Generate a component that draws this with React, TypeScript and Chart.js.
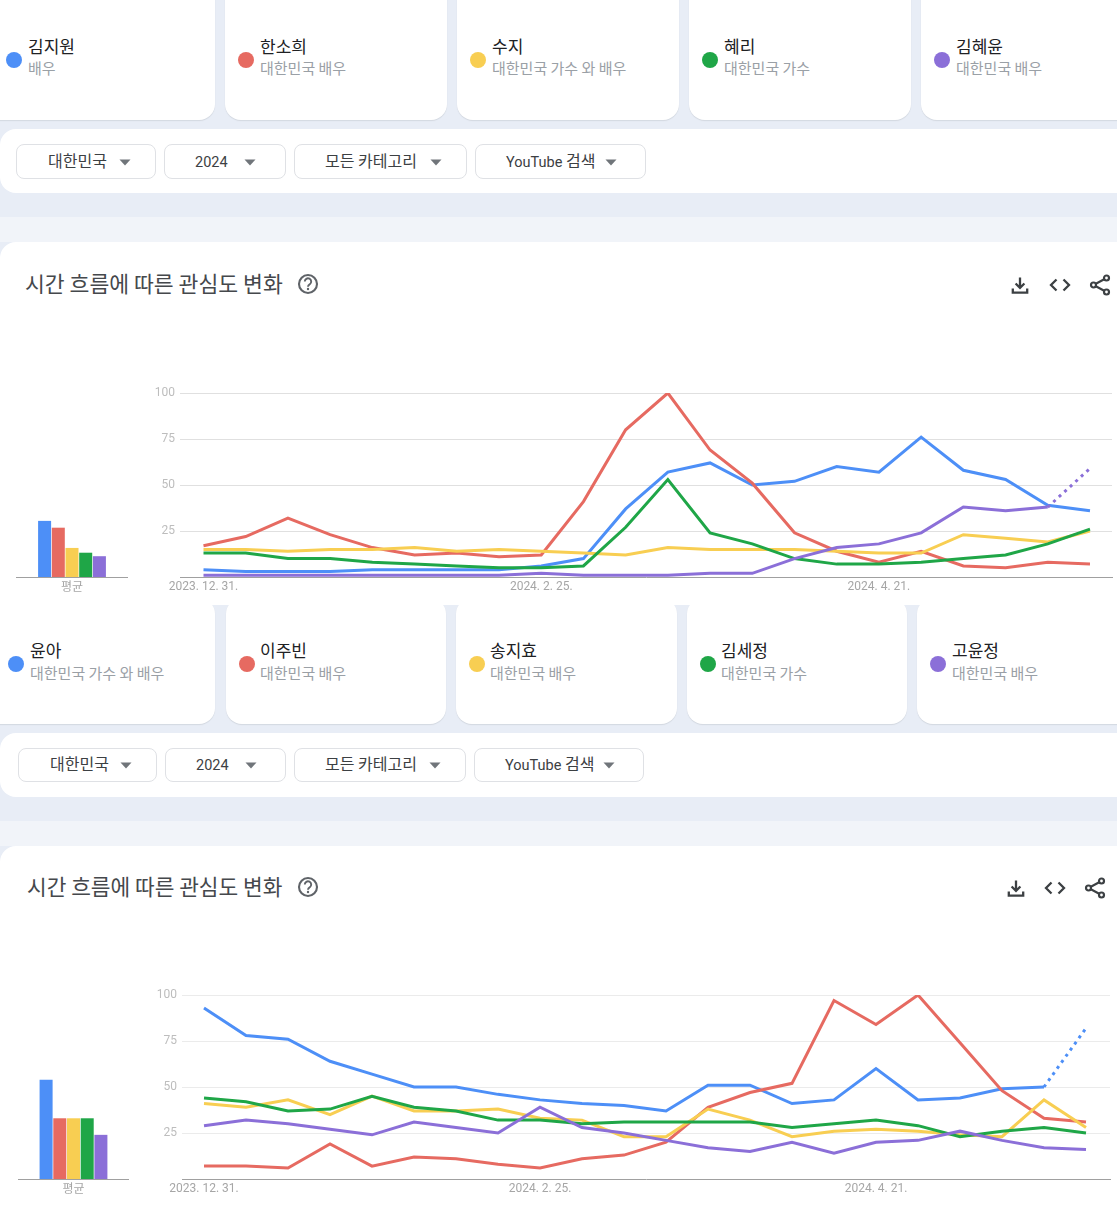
import React, { useEffect, useRef } from "react";
import { Chart, registerables } from "chart.js";

Chart.register(...registerables);

const weeks = [
  "2023. 12. 31.", "2024. 1. 7.", "2024. 1. 14.", "2024. 1. 21.", "2024. 1. 28.", "2024. 2. 4.",
  "2024. 2. 11.", "2024. 2. 18.", "2024. 2. 25.", "2024. 3. 3.", "2024. 3. 10.", "2024. 3. 17.",
  "2024. 3. 24.", "2024. 3. 31.", "2024. 4. 7.", "2024. 4. 14.", "2024. 4. 21.", "2024. 4. 28.",
  "2024. 5. 5.", "2024. 5. 12.", "2024. 5. 19.", "2024. 5. 26.",
];
const yTicks = [25, 50, 75, 100];
const xTickIndexes = [0, 8, 16];
const avgLabel = "평균";
const colors = ["#4d8ff7", "#e66a61", "#f8ce52", "#1fa647", "#8b6fd8"];

// first comparison
const namesA = ["김지원", "한소희", "수지", "혜리", "김혜윤"];
const rolesA = ["배우", "대한민국 배우", "대한민국 가수 와 배우", "대한민국 가수", "대한민국 배우"];
const blueA = [4, 3, 3, 3, 4, 4, 4, 4, 6, 10, 37, 57, 62, 50, 52, 60, 57, 76, 58, 53, 39, 36];
const redA = [17, 22, 32, 23, 16, 12, 13, 11, 12, 41, 80, 100, 69, 51, 24, 14, 8, 14, 6, 5, 8, 7];
const yellowA = [15, 15, 14, 15, 15, 16, 14, 15, 14, 13, 12, 16, 15, 15, 15, 14, 13, 13, 23, 21, 19, 25];
const greenA = [13, 13, 10, 10, 8, 7, 6, 5, 5, 6, 27, 53, 24, 18, 10, 7, 7, 8, 10, 12, 18, 26];
const purpleA = [1, 1, 1, 1, 1, 1, 1, 1, 2, 1, 1, 1, 2, 2, 10, 16, 18, 24, 38, 36, 38, 59];
const averagesA = [30.5, 26.8, 15.8, 13.2, 11.3];

// second comparison
const namesB = ["윤아", "이주빈", "송지효", "김세정", "고윤정"];
const rolesB = ["대한민국 가수 와 배우", "대한민국 배우", "대한민국 배우", "대한민국 가수", "대한민국 배우"];
const blueB = [93, 78, 76, 64, 57, 50, 50, 46, 43, 41, 40, 37, 51, 51, 41, 43, 60, 43, 44, 49, 50, 82];
const redB = [7, 7, 6, 19, 7, 12, 11, 8, 6, 11, 13, 20, 39, 47, 52, 97, 84, 100, 74, 48, 33, 31];
const yellowB = [41, 39, 43, 35, 45, 37, 37, 38, 33, 32, 23, 23, 38, 32, 23, 26, 27, 26, 24, 23, 43, 28];
const greenB = [44, 42, 37, 38, 45, 39, 37, 32, 32, 30, 31, 31, 31, 31, 28, 30, 32, 29, 23, 26, 28, 25];
const purpleB = [29, 32, 30, 27, 24, 31, 28, 25, 39, 28, 25, 21, 17, 15, 20, 14, 20, 21, 26, 21, 17, 16];
const averagesB = [54, 33, 33, 33, 24];

const filters = ["대한민국", "2024", "모든 카테고리", "YouTube 검색"];
const title = "시간 흐름에 따른 관심도 변화";

const FONT = "Roboto, 'Noto Sans CJK KR', sans-serif";
const KFONT = "'Noto Sans CJK KR', Roboto, sans-serif";
const BG = "#e8edf6";
const BG2 = "#f1f4f9";

function LineChart(props: {
  top: number; x0: number; x21: number; left: number; right: number; grid: string;
  series: number[][]; dottedSeries: number;
}) {
  const { top, x0, x21, left, right, grid, series, dottedSeries } = props;
  const ref = useRef<HTMLCanvasElement>(null);
  const canvasLeft = 140;
  const canvasTop = top - 18;
  const canvasW = 1117 - canvasLeft;
  const canvasH = 18 + 184 + 20;
  useEffect(() => {
    const step = (x21 - x0) / 21;
    const chart = new Chart(ref.current!, {
      type: "line",
      data: {
        labels: weeks,
        datasets: series.map((vals, s) => ({
          data: vals.map((y, i) => ({ x: i, y })),
          borderColor: colors[s],
          borderWidth: 3,
          pointRadius: 0,
          tension: 0,
          order: 5 - s,
          borderCapStyle: "butt" as const,
          segment: {
            borderDash: (ctx: any) => (s === dottedSeries && ctx.p0DataIndex === 20 ? [3, 4.5] : undefined),
          },
        })),
      },
      options: {
        responsive: false,
        animation: false,
        layout: { padding: { top: 18, right: 1117 - right, left: 0, bottom: 0 } },
        plugins: { legend: { display: false }, tooltip: { enabled: false } },
        scales: {
          x: {
            type: "linear",
            min: -(x0 - left) / step,
            max: 21 + (right - x21) / step,
            grid: { display: false, drawTicks: false },
            border: { display: true, color: "#a0a0a0", width: 1 },
            afterBuildTicks: (s: any) => { s.ticks = xTickIndexes.map((value) => ({ value })); },
            afterFit: (s: any) => { s.height = 20; },
            ticks: {
              autoSkip: false, maxRotation: 0, padding: 3,
              color: "#a6a6a6",
              font: { family: "Roboto", size: 12 },
              callback: (v: any) => weeks[v as number],
            },
          },
          y: {
            min: 0, max: 100,
            border: { display: false },
            grid: { color: grid, lineWidth: 1, drawTicks: false },
            afterBuildTicks: (s: any) => { s.ticks = yTicks.map((value) => ({ value })); },
            afterFit: (s: any) => { s.width = left - canvasLeft; },
            ticks: { color: "#bdbdbd", padding: 5, font: { family: "Roboto", size: 12 } },
          },
        },
      },
    } as any);
    return () => chart.destroy();
  }, []);
  return (
    <canvas ref={ref} width={canvasW} height={canvasH}
      style={{ position: "absolute", left: canvasLeft, top: canvasTop, width: canvasW, height: canvasH }} />
  );
}

function AvgChart(props: { base: number; left: number; width: number; values: number[] }) {
  const { base, left, width, values } = props;
  const ref = useRef<HTMLCanvasElement>(null);
  useEffect(() => {
    const chart = new Chart(ref.current!, {
      type: "bar",
      data: {
        labels: [avgLabel],
        datasets: values.map((v, s) => ({
          data: [v],
          backgroundColor: colors[s],
          barPercentage: 0.95,
          categoryPercentage: 68.5 / width,
        })),
      },
      options: {
        responsive: false,
        animation: false,
        plugins: { legend: { display: false }, tooltip: { enabled: false } },
        scales: {
          x: {
            grid: { display: false, drawTicks: false },
            border: { display: true, color: "#a0a0a0", width: 1 },
            afterFit: (s: any) => { s.height = 20; },
            ticks: { padding: 2, color: "#a6a6a6", font: { family: KFONT, size: 12 } },
          },
          y: { display: false, min: 0, max: 100 },
        },
      },
    } as any);
    return () => chart.destroy();
  }, []);
  return (
    <canvas ref={ref} width={width} height={204}
      style={{ position: "absolute", left, top: base - 184, width, height: 204 }} />
  );
}

function box(left: number, top: number, right: number, bottom: number, extra: React.CSSProperties = {}): React.CSSProperties {
  return { position: "absolute", left, top, width: right - left, height: bottom - top, boxSizing: "border-box", ...extra };
}

function Text(props: { x: number; y: number; size: number; color: string; children: React.ReactNode; fam?: string }) {
  return (
    <div style={{
      position: "absolute", left: props.x, top: props.y, transform: "translateY(-50%)", whiteSpace: "nowrap",
      fontFamily: props.fam || FONT, fontSize: props.size, color: props.color, fontWeight: 400, lineHeight: 1,
    }}>{props.children}</div>
  );
}

// Filter labels: Hangul runs are larger than the Latin and digit runs, as in the reference.
function FilterLabel({ text }: { text: string }) {
  const parts = text.split(/([\uAC00-\uD7A3][\uAC00-\uD7A3 ]*)/).filter(Boolean);
  return (
    <>
      {parts.map((part, i) => (
        /[\uAC00-\uD7A3]/.test(part)
          ? <span key={i} style={{ fontFamily: KFONT, fontSize: 16 }}>{part}</span>
          : <span key={i} style={{ fontFamily: "Roboto", fontSize: 14.5 }}>{part}</span>
      ))}
    </>
  );
}

function Icons(props: { y: number; xs: number[] }) {
  const { y, xs } = props;
  const c = "#3c4043";
  return (
    <>
      <svg style={{ position: "absolute", left: xs[0] - 12, top: y - 12 }} width={24} height={24} viewBox="0 0 24 24">
        <path d="M12 4.5v10M7.6 10.5l4.4 4.4 4.4-4.4M4.8 15.5v4.2h14.4v-4.2" fill="none" stroke={c} strokeWidth={2.3} />
      </svg>
      <svg style={{ position: "absolute", left: xs[1] - 12, top: y - 12 }} width={24} height={24} viewBox="0 0 24 24">
        <path d="M8.5 6.5l-5.5 5.5 5.5 5.5M15.5 6.5l5.5 5.5-5.5 5.5" fill="none" stroke={c} strokeWidth={2.3} />
      </svg>
      <svg style={{ position: "absolute", left: xs[2] - 12, top: y - 12 }} width={24} height={24} viewBox="0 0 24 24">
        <path d="M18.5 5L5.5 12l13 7" fill="none" stroke={c} strokeWidth={2.2} />
        <circle cx={18.5} cy={5} r={2.5} fill="#fff" stroke={c} strokeWidth={2.2} />
        <circle cx={5.5} cy={12} r={2.5} fill="#fff" stroke={c} strokeWidth={2.2} />
        <circle cx={18.5} cy={19} r={2.5} fill="#fff" stroke={c} strokeWidth={2.2} />
      </svg>
    </>
  );
}

function Section(props: {
  cardsTop: number; cardsBottom: number; cardX: number[][]; dotX: number[]; textX: number[]; dotY: number; nameY: number; roleY: number;
  names: string[]; roles: string[];
  stripTop: number; stripBottom: number; btnTop: number; btnBottom: number; btnX: number[][]; btnTextX: number[]; btnArrowX: number[];
  bandTop: number; panelTop: number; panelBottom: number; titleX: number; titleY: number; titleSize: number; helpX: number; iconXs: number[];
}) {
  const p = props;
  return (
    <>
      {p.cardX.map((c, i) => (
        <div key={i} style={box(c[0], p.cardsTop, c[1], p.cardsBottom, { background: "#fff", borderRadius: 16, boxShadow: "0 1px 1px rgba(60,64,67,0.12)" })} />
      ))}
      {p.names.map((n, i) => (
        <React.Fragment key={n}>
          <div style={box(p.dotX[i] - 8, p.dotY - 8, p.dotX[i] + 8, p.dotY + 8, { background: colors[i], borderRadius: "50%" })} />
          <Text x={p.textX[i]} y={p.nameY} size={17} color="#202124" fam={KFONT}>{n}</Text>
          <Text x={p.textX[i]} y={p.roleY} size={15} color="#9aa0a6" fam={KFONT}>{p.roles[i]}</Text>
        </React.Fragment>
      ))}
      <div style={box(0, p.stripTop, 1117, p.stripBottom, { background: "#fff", borderRadius: "16px 0 0 16px" })} />
      {filters.map((f, i) => (
        <React.Fragment key={f}>
          <div style={box(p.btnX[i][0], p.btnTop, p.btnX[i][1], p.btnBottom, { background: "#fff", border: "1px solid #dfe1e5", borderRadius: 8 })} />
          <Text x={p.btnTextX[i]} y={(p.btnTop + p.btnBottom) / 2 + (f === "2024" ? 1 : -1)} size={15} color="#3c4043" fam={FONT}>
            <FilterLabel text={f} />
          </Text>
          <svg style={{ position: "absolute", left: p.btnArrowX[i] - 6, top: (p.btnTop + p.btnBottom) / 2 - 3 }} width={12} height={7}>
            <path d="M0.5 0.5h11l-5.5 6z" fill="#70757a" />
          </svg>
        </React.Fragment>
      ))}
      <div style={box(0, p.bandTop, 1117, p.panelTop, { background: BG2 })} />
      <div style={box(0, p.panelTop, 1117, p.panelBottom, { background: "#fff", borderRadius: "16px 0 0 0" })} />
      <Text x={p.titleX} y={p.titleY - 1} size={p.titleSize} color="#45484c" fam={KFONT}>{title}</Text>
      <svg style={{ position: "absolute", left: p.helpX - 11, top: p.titleY - 11 }} width={22} height={22} viewBox="0 0 22 22">
        <circle cx={11} cy={11} r={9} fill="none" stroke="#5f6368" strokeWidth={2.1} />
        <path d="M7.8 8.6a3.2 3.2 0 1 1 5 2.6c-1 .7-1.8 1.2-1.8 2.6" fill="none" stroke="#5f6368" strokeWidth={1.9} />
        <circle cx={11} cy={16} r={1.2} fill="#5f6368" />
      </svg>
      <Icons y={p.titleY + 1} xs={p.iconXs} />
    </>
  );
}

export default function App() {
  useEffect(() => {
    document.body.style.margin = "0";
    document.body.style.background = BG;
  }, []);
  return (
    <div style={{ position: "relative", width: 1117, height: 1208, overflow: "hidden", background: BG, fontFamily: FONT }}>
      <Section
        cardsTop={-20} cardsBottom={120}
        cardX={[[-40, 215], [225, 447], [457, 679], [689, 911], [921, 1160]]}
        dotX={[14, 246, 478, 710, 942]} textX={[28, 260, 492, 724, 956]}
        dotY={60} nameY={45} roleY={67} names={namesA} roles={rolesA}
        stripTop={129} stripBottom={193} btnTop={144} btnBottom={179}
        btnX={[[16, 156], [164, 286], [294, 467], [475, 646]]}
        btnTextX={[48, 195, 325, 506]} btnArrowX={[125, 250, 436, 611]}
        bandTop={217} panelTop={242} panelBottom={640}
        titleX={25} titleY={284} titleSize={21.6} helpX={308} iconXs={[1020, 1060, 1100]}
      />

      <div style={box(0, 605, 1117, 733, { background: BG })} />
      <Section
        cardsTop={598} cardsBottom={724}
        cardX={[[-40, 215], [226, 446], [456, 677], [687, 907], [917, 1160]]}
        dotX={[16, 247, 477, 708, 938]} textX={[30, 260, 490, 721, 952]}
        dotY={664} nameY={649} roleY={672} names={namesB} roles={rolesB}
        stripTop={733} stripBottom={797} btnTop={748} btnBottom={782}
        btnX={[[18, 157], [165, 286], [294, 466], [474, 644]]}
        btnTextX={[50, 196, 325, 505]} btnArrowX={[126, 251, 435, 609]}
        bandTop={821} panelTop={846} panelBottom={1208}
        titleX={27} titleY={887} titleSize={21.4} helpX={308} iconXs={[1016, 1055, 1095]}
      />
      <div style={box(0, 590, 1117, 605, { background: "#fff" })} />

      <LineChart top={393} x0={203.5} x21={1090} left={180} right={1112} grid="#e0e0e0"
        series={[blueA, redA, yellowA, greenA, purpleA]} dottedSeries={4} />
      <AvgChart base={577} left={16} width={112} values={averagesA} />
      <LineChart top={995} x0={204} x21={1086} left={182} right={1110} grid="#ebebeb"
        series={[blueB, redB, yellowB, greenB, purpleB]} dottedSeries={0} />
      <AvgChart base={1179} left={18} width={111} values={averagesB} />
    </div>
  );
}
